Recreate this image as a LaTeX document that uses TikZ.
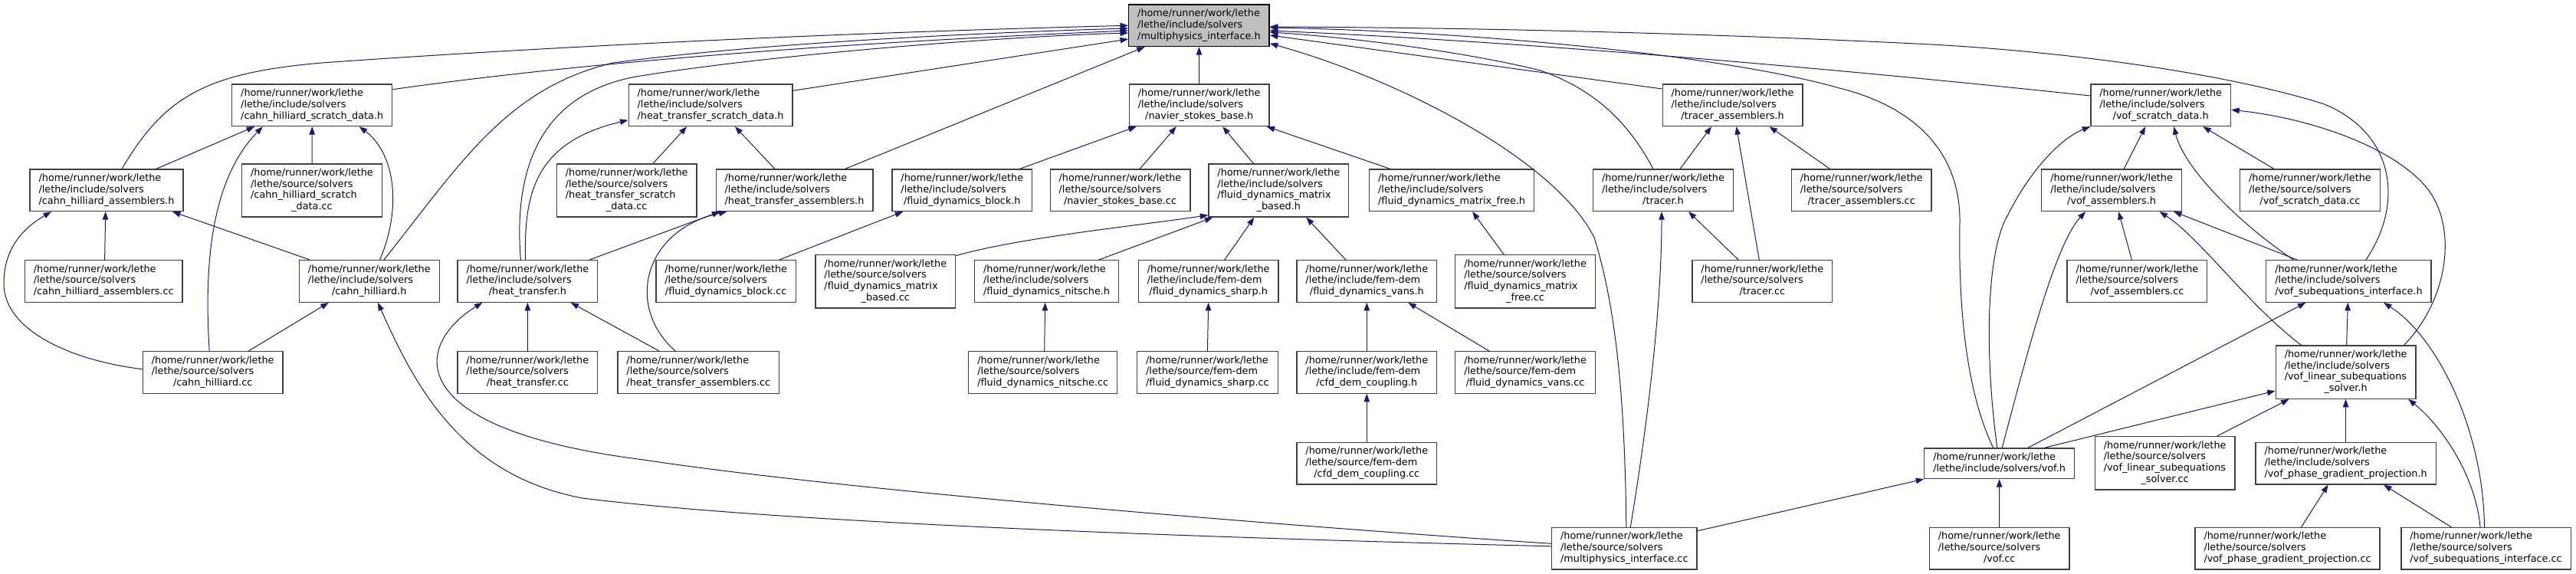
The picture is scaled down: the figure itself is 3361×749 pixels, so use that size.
\documentclass[tikz,border=0pt]{standalone}
\usepackage{fontspec}
\newfontfamily\doxyfont{DejaVu Sans}
\usepackage{xcolor}
\usepackage{tikz}
\usetikzlibrary{arrows.meta}
\definecolor{edgeblue}{HTML}{191970}
\definecolor{boxgrey}{HTML}{404040}
\definecolor{selgrey}{HTML}{BFBFBF}
\newcommand{\tpath}[2]{\begin{tabular}{@{}l@{}}/home/runner/work/lethe\\/lethe/#1\\\multicolumn{1}{@{}c@{}}{#2}\end{tabular}}
\newcommand{\qpath}[3]{\begin{tabular}{@{}l@{}}/home/runner/work/lethe\\/lethe/#1\\#2\\\multicolumn{1}{@{}c@{}}{#3}\end{tabular}}
\tikzset{
  file/.style={rectangle, draw=boxgrey, fill=white, line width=1.3pt,
    inner xsep=11.5pt, inner ysep=5pt, font=\doxyfont\fontsize{12.8}{14.8}\selectfont},
  curfile/.style={file, draw=black, fill=selgrey},
  dep/.style={draw=edgeblue, line width=1pt, -{Triangle[length=10.5pt,width=7.5pt]}},
}
\begin{document}
\begin{tikzpicture}[x=1pt,y=-1pt]
  \useasboundingbox (0,0) rectangle (3361,749);

  \node[curfile] (mi) at (1564.4,33.3) {\tpath{include/solvers}{/multiphysics\_interface.h}};
  \node[file] (chsdh) at (407.2,137.3) {\tpath{include/solvers}{/cahn\_hilliard\_scratch\_data.h}};
  \node[file] (htsdh) at (927.1,137.3) {\tpath{include/solvers}{/heat\_transfer\_scratch\_data.h}};
  \node[file] (nsbh) at (1564.7,137.3) {\tpath{include/solvers}{/navier\_stokes\_base.h}};
  \node[file] (tah) at (2260.5,137.3) {\tpath{include/solvers}{/tracer\_assemblers.h}};
  \node[file] (vsdh) at (2819.2,137.3) {\tpath{include/solvers}{/vof\_scratch\_data.h}};
  \node[file] (chah) at (139,248.3) {\tpath{include/solvers}{/cahn\_hilliard\_assemblers.h}};
  \node[file] (chsdcc) at (407,248.5) {\qpath{source/solvers}{/cahn\_hilliard\_scratch}{\_data.cc}};
  \node[file] (htsdcc) at (817.7,248.5) {\qpath{source/solvers}{/heat\_transfer\_scratch}{\_data.cc}};
  \node[file] (htah) at (1036.5,248.3) {\tpath{include/solvers}{/heat\_transfer\_assemblers.h}};
  \node[file] (fdbh) at (1255.3,248.3) {\tpath{include/solvers}{/fluid\_dynamics\_block.h}};
  \node[file] (nsbcc) at (1461.5,248.3) {\tpath{source/solvers}{/navier\_stokes\_base.cc}};
  \node[file] (fdmbh) at (1668.3,248.5) {\qpath{include/solvers}{/fluid\_dynamics\_matrix}{\_based.h}};
  \node[file] (fdmfh) at (1894.1,248.3) {\tpath{include/solvers}{/fluid\_dynamics\_matrix\_free.h}};
  \node[file] (tracerh) at (2170,248.3) {\tpath{include/solvers}{/tracer.h}};
  \node[file] (tacc) at (2428.7,248.3) {\tpath{source/solvers}{/tracer\_assemblers.cc}};
  \node[file] (vah) at (2755.1,248.3) {\tpath{include/solvers}{/vof\_assemblers.h}};
  \node[file] (vsdcc) at (3013.9,248.3) {\tpath{source/solvers}{/vof\_scratch\_data.cc}};
  \node[file] (chacc) at (135.2,367) {\tpath{source/solvers}{/cahn\_hilliard\_assemblers.cc}};
  \node[file] (chh) at (481.8,367) {\tpath{include/solvers}{/cahn\_hilliard.h}};
  \node[file] (hth) at (688.4,367) {\tpath{include/solvers}{/heat\_transfer.h}};
  \node[file] (fdbcc) at (947.2,367) {\tpath{source/solvers}{/fluid\_dynamics\_block.cc}};
  \node[file] (fdmbcc) at (1155.3,367.3) {\qpath{source/solvers}{/fluid\_dynamics\_matrix}{\_based.cc}};
  \node[file] (fdnh) at (1365.6,367) {\tpath{include/solvers}{/fluid\_dynamics\_nitsche.h}};
  \node[file] (fdsh) at (1576.7,367) {\tpath{include/fem-dem}{/fluid\_dynamics\_sharp.h}};
  \node[file] (vansh) at (1783.3,367) {\tpath{include/fem-dem}{/fluid\_dynamics\_vans.h}};
  \node[file] (fdmfcc) at (1990.1,367.3) {\qpath{source/solvers}{/fluid\_dynamics\_matrix}{\_free.cc}};
  \node[file] (tracercc) at (2299.3,367) {\tpath{source/solvers}{/tracer.cc}};
  \node[file] (vacc) at (2788.4,367) {\tpath{source/solvers}{/vof\_assemblers.cc}};
  \node[file] (vsih) at (3064.4,367) {\tpath{include/solvers}{/vof\_subequations\_interface.h}};
  \node[file] (chcc) at (277.7,486) {\tpath{source/solvers}{/cahn\_hilliard.cc}};
  \node[file] (htcc) at (688.3,486) {\tpath{source/solvers}{/heat\_transfer.cc}};
  \node[file] (htacc) at (911.3,486) {\tpath{source/solvers}{/heat\_transfer\_assemblers.cc}};
  \node[file] (fdncc) at (1360.7,486) {\tpath{source/solvers}{/fluid\_dynamics\_nitsche.cc}};
  \node[file] (fdscc) at (1575.4,486) {\tpath{source/fem-dem}{/fluid\_dynamics\_sharp.cc}};
  \node[file] (cfdh) at (1783.3,486) {\tpath{include/fem-dem}{/cfd\_dem\_coupling.h}};
  \node[file] (vanscc) at (1990.1,486) {\tpath{source/fem-dem}{/fluid\_dynamics\_vans.cc}};
  \node[file] (vlssh) at (3060.6,485.6) {\qpath{include/solvers}{/vof\_linear\_subequations}{\_solver.h}};
  \node[file] (cfdcc) at (1783.3,604.7) {\tpath{source/fem-dem}{/cfd\_dem\_coupling.cc}};
  \node[file] (vofh) at (2608.6,604.7) {\begin{tabular}{@{}l@{}}/home/runner/work/lethe\\/lethe/include/solvers/vof.h\end{tabular}};
  \node[file] (vlsscc) at (2824.6,604.3) {\qpath{source/solvers}{/vof\_linear\_subequations}{\_solver.cc}};
  \node[file] (vpgph) at (3060.6,604.7) {\tpath{include/solvers}{/vof\_phase\_gradient\_projection.h}};
  \node[file] (micc) at (2119.3,715.8) {\tpath{source/solvers}{/multiphysics\_interface.cc}};
  \node[file] (vofcc) at (2608.7,715.8) {\tpath{source/solvers}{/vof.cc}};
  \node[file] (vpgpcc) at (2984.5,715.8) {\tpath{source/solvers}{/vof\_phase\_gradient\_projection.cc}};
  \node[file] (vsicc) at (3243.5,715.8) {\tpath{source/solvers}{/vof\_subequations\_interface.cc}};

  % includes of multiphysics_interface.h
  \draw[dep] ([xshift=20pt]chah.north) .. controls (215,125) and (270,95) .. (420,82) .. controls (800,55) and (1200,40) .. (mi.west);
  \draw[dep] ([xshift=19pt]chh.north) .. controls (600,215) and (660,115) .. (800,82) .. controls (1000,55) and (1300,42) .. ([yshift=-3.7pt]mi.west);
  \draw[dep] ([yshift=20.6pt]chsdh.east) .. controls (700,90) and (1000,60) .. ([yshift=-6.7pt]mi.west);
  \draw[dep] ([xshift=-9pt]hth.north) .. controls (668,200) and (720,120) .. (830,100) .. controls (1000,72) and (1300,48) .. ([yshift=-9.7pt]mi.west);
  \draw[dep] ([yshift=19pt]htsdh.east) -- ([yshift=-17.7pt]mi.west);
  \draw[dep] ([xshift=66pt]htah.north) -- ([xshift=-70.7pt]mi.south);
  \draw[dep] (nsbh.north) -- (mi.south);
  \draw[dep] ([yshift=21.3pt]tah.west) -- ([yshift=-12.7pt]mi.east);
  \draw[dep] ([xshift=-13pt]tracerh.north) .. controls (2130,170) and (2090,120) .. (2010,92) .. controls (1900,65) and (1750,48) .. ([yshift=-8.7pt]mi.east);
  \draw[dep] ([yshift=12.3pt]vsdh.west) .. controls (2400,90) and (2000,55) .. ([yshift=-6.7pt]mi.east);
  \draw[dep] ([xshift=-8pt]vofh.north) .. controls (2565,510) and (2555,400) .. (2557,290) .. controls (2558,200) and (2500,140) .. (2400,115) .. controls (2260,75) and (1950,42) .. ([yshift=-2.7pt]mi.east);
  \draw[dep] ([xshift=22.5pt]vsih.north) .. controls (3140,260) and (3120,170) .. (3030,135) .. controls (2900,95) and (2700,68) .. (2520,58) .. controls (2200,42) and (1900,36) .. ([yshift=-1.7pt]mi.east);
  \draw[dep] ([xshift=2.5pt]micc.north) .. controls (2120,500) and (2105,390) .. (2080,310) .. controls (2030,210) and (1830,105) .. ([yshift=-23.4pt]mi.east);

  % cahn hilliard
  \draw[dep] ([xshift=64.6pt]chah.north) -- ([xshift=-75pt]chsdh.south);
  \draw[dep] ([xshift=-4.5pt]chcc.north) .. controls (265,330) and (280,230) .. ([xshift=-64.4pt]chsdh.south);
  \draw[dep] (chsdcc.north) -- (chsdh.south);
  \draw[dep] ([xshift=13.7pt]chh.north) .. controls (525,270) and (515,200) .. ([xshift=61.5pt]chsdh.south);
  \draw[dep] ([xshift=1.4pt]chacc.north) -- ([xshift=-1.3pt]chah.south);
  \draw[dep] ([yshift=4.3pt]chcc.west) .. controls (90,470) and (5,430) .. (5,370) .. controls (5,320) and (35,295) .. ([xshift=-72pt]chah.south);
  \draw[dep] ([xshift=-77.3pt]chh.north) -- ([xshift=86pt]chah.south);
  \draw[dep] ([xshift=46.4pt]chcc.north) -- ([xshift=-53pt]chh.south);
  \draw[dep] ([yshift=3pt]micc.west) .. controls (1500,700) and (1000,680) .. (760,650) .. controls (600,620) and (540,500) .. ([xshift=11.2pt]chh.south);

  % heat transfer
  \draw[dep] ([yshift=6.5pt]micc.west) .. controls (1700,688) and (1100,640) .. (840,600) .. controls (520,560) and (540,450) .. ([xshift=-59pt]hth.south);
  \draw[dep] (htcc.north) -- (hth.south);
  \draw[dep] ([xshift=-51pt]htacc.north) -- ([xshift=56.2pt]hth.south);
  \draw[dep] ([xshift=-30pt]htacc.north) .. controls (815,400) and (840,300) .. ([xshift=-88pt]htah.south);
  \draw[dep] ([xshift=80.3pt]hth.north) -- ([xshift=-97pt]htah.south);
  \draw[dep] ([xshift=-2.7pt]hth.north) .. controls (683,250) and (700,185) .. ([yshift=-19.4pt]htsdh.west);
  \draw[dep] ([xshift=34.3pt]htsdcc.north) -- ([xshift=-31pt]htsdh.south);
  \draw[dep] ([xshift=-25.5pt]htah.north) -- ([xshift=31.8pt]htsdh.south);

  % fluid dynamics
  \draw[dep] ([xshift=75pt]fdbh.north) -- ([xshift=-82pt]nsbh.south);
  \draw[dep] ([xshift=25.6pt]nsbcc.north) -- ([xshift=-30pt]nsbh.south);
  \draw[dep] ([xshift=-33pt]fdmbh.north) -- ([xshift=30.5pt]nsbh.south);
  \draw[dep] ([xshift=-80pt]fdmfh.north) -- ([xshift=88pt]nsbh.south);
  \draw[dep] ([xshift=69pt]fdbcc.north) -- ([xshift=-77pt]fdbh.south);
  \draw[dep] ([yshift=-1.6pt]fdmbcc.north east) .. controls (1330,310) and (1480,295) .. ([yshift=3pt]fdmbh.south west);
  \draw[dep] ([xshift=67.8pt]fdnh.north) -- ([xshift=6pt]fdmbh.south west);
  \draw[dep] ([xshift=21pt]fdsh.north) -- ([xshift=-32pt]fdmbh.south);
  \draw[dep] ([xshift=-27.4pt]vansh.north) -- ([xshift=36pt]fdmbh.south);
  \draw[dep] ([xshift=2pt]fdncc.north) -- ([xshift=-2pt]fdnh.south);
  \draw[dep] (fdscc.north) -- (fdsh.south);
  \draw[dep] ([xshift=-28pt]fdmfcc.north) -- ([xshift=27pt]fdmfh.south);
  \draw[dep] (cfdh.north) -- (vansh.south);
  \draw[dep] ([xshift=-47pt]vanscc.north) -- ([xshift=54pt]vansh.south);
  \draw[dep] (cfdcc.north) -- (cfdh.south);

  % tracer
  \draw[dep] ([xshift=22pt]tracerh.north) -- ([xshift=-27.5pt]tah.south);
  \draw[dep] ([xshift=-4pt]tracercc.north) -- ([xshift=5pt]tah.south);
  \draw[dep] ([xshift=-41pt]tacc.north) -- ([xshift=48pt]tah.south);
  \draw[dep] ([xshift=-31pt]tracercc.north) -- ([xshift=33pt]tracerh.south);
  \draw[dep] ([xshift=8pt]micc.north) .. controls (2150,550) and (2168,400) .. ([xshift=-2pt]tracerh.south);

  % vof
  \draw[dep] ([xshift=16pt]vah.north) -- ([xshift=-20pt]vsdh.south);
  \draw[dep] ([xshift=-47pt]vsdcc.north) -- ([xshift=55pt]vsdh.south);
  \draw[dep] ([xshift=-72pt]vsih.north) .. controls (2920,290) and (2850,220) .. ([xshift=17pt]vsdh.south);
  \draw[dep] ([xshift=-2.8pt]vofh.north) .. controls (2590,470) and (2590,330) .. (2620,280) .. controls (2650,220) and (2690,180) .. (vsdh.south west);
  \draw[dep] ([xshift=3.6pt]vofh.north) .. controls (2640,480) and (2680,320) .. ([xshift=-34pt]vah.south);
  \draw[dep] ([xshift=37.5pt]vofh.north) -- ([xshift=-56pt]vsih.south);
  \draw[dep] ([xshift=59pt]vofh.north) -- ([yshift=-24.4pt]vlssh.west);
  \draw[dep] ([yshift=23pt]micc.east) -- (vofh.south west);
  \draw[dep] (vofcc.north) -- (vofh.south);
  \draw[dep] ([xshift=-67pt]vsih.north) -- ([xshift=81pt]vah.south);
  \draw[dep] ([xshift=-58pt]vlssh.north) .. controls (2935,400) and (2870,310) .. ([xshift=62.5pt]vah.south);
  \draw[dep] ([xshift=-7pt]vacc.north) -- ([xshift=9pt]vah.south);
  \draw[dep] ([xshift=1pt]vlssh.north) -- ([xshift=-1pt]vsih.south);
  \draw[dep] ([xshift=-2pt]vsicc.north) .. controls (3240,560) and (3180,440) .. ([xshift=45.6pt]vsih.south);
  \draw[dep] ([xshift=76pt]vlssh.north) .. controls (3195,390) and (3205,300) .. (3170,250) .. controls (3130,195) and (3020,155) .. ([yshift=-6pt]vsdh.east);
  \draw[dep] ([xshift=68pt]vlsscc.north) -- ([xshift=-74pt]vlssh.south);
  \draw[dep] (vpgph.north) -- (vlssh.south);
  \draw[dep] ([xshift=-7.5pt]vsicc.north) .. controls (3230,620) and (3185,555) .. ([xshift=81.5pt]vlssh.south);
  \draw[dep] ([xshift=18pt]vpgpcc.north) -- ([xshift=-23pt]vpgph.south);
  \draw[dep] ([xshift=-45pt]vsicc.north) -- ([xshift=49.4pt]vpgph.south);
\end{tikzpicture}
\end{document}
